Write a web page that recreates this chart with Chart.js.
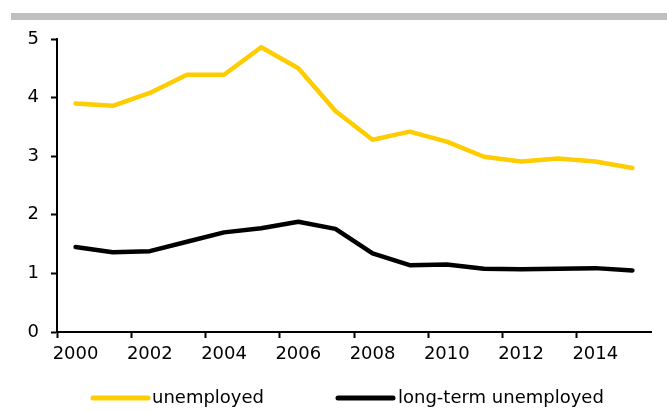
<!DOCTYPE html>
<html><head><meta charset="utf-8">
<script src="https://cdn.jsdelivr.net/npm/chart.js@4"></script>
<style>html,body{margin:0;padding:0;background:#fff;}#wrap{width:667px;height:411px;position:relative;}</style>
</head><body><div id="wrap"><canvas id="c"></canvas></div>
<script>
const years = ['2000','2001','2002','2003','2004','2005','2006','2007','2008','2009','2010','2011','2012','2013','2014','2015'];
const unemployed = [3.90,3.86,4.08,4.39,4.39,4.86,4.50,3.77,3.28,3.42,3.25,2.99,2.91,2.96,2.91,2.80];
const longTermUnemployed = [1.45,1.36,1.38,1.54,1.70,1.77,1.88,1.76,1.34,1.14,1.15,1.08,1.07,1.08,1.09,1.05];
const seriesNames = ['unemployed','long-term unemployed'];
const seriesColors = ['#FFCC00','#000000'];
const yMin = 0, yMax = 5, yStep = 1;

const FONT = 'DejaVu Sans';

const decor = {
  id: 'decor',
  beforeDraw(chart) {
    const ctx = chart.ctx;
    ctx.save();
    ctx.fillStyle = '#BFBFBF';
    ctx.fillRect(11, 13, 656, 7);
    ctx.restore();
  },
  afterDraw(chart) {
    const ctx = chart.ctx;
    const items = [{x0: 93, x1: 148, tx: 152}, {x0: 338, x1: 393, tx: 398}];
    const y = 398;
    ctx.save();
    ctx.font = '18px "' + FONT + '"';
    ctx.textBaseline = 'middle';
    ctx.textAlign = 'left';
    chart.data.datasets.forEach((ds, i) => {
      const it = items[i];
      ctx.strokeStyle = ds.borderColor;
      ctx.lineWidth = 5;
      ctx.lineCap = 'round';
      ctx.beginPath();
      ctx.moveTo(it.x0, y);
      ctx.lineTo(it.x1, y);
      ctx.stroke();
      ctx.fillStyle = '#000';
      ctx.fillText(ds.label, it.tx, y);
    });
    ctx.restore();
  }
};

new Chart(document.getElementById('c'), {
  type: 'line',
  data: {
    labels: years,
    datasets: [
      {label: seriesNames[0], data: unemployed, borderColor: seriesColors[0], backgroundColor: seriesColors[0]},
      {label: seriesNames[1], data: longTermUnemployed, borderColor: seriesColors[1], backgroundColor: seriesColors[1]}
    ]
  },
  options: {
    responsive: true,
    maintainAspectRatio: false,
    animation: false,
    devicePixelRatio: 1,
    layout: {padding: {top: 39, left: 0, right: 16, bottom: 39}},
    elements: {
      line: {borderWidth: 4.5, tension: 0, borderCapStyle: 'round', borderJoinStyle: 'round'},
      point: {radius: 0, hoverRadius: 0}
    },
    plugins: {legend: {display: false}, tooltip: {enabled: false}},
    scales: {
      x: {
        type: 'category',
        offset: true,
        afterFit(s) { s.height = 40; },
        grid: {
          offset: true, drawOnChartArea: false, drawTicks: true, tickLength: 6, tickWidth: 2,
          tickColor: (c) => (c.index % 2 === 0 ? '#000' : 'rgba(0,0,0,0)')
        },
        border: {display: true, color: '#000', width: 2},
        ticks: {
          autoSkip: false, maxRotation: 0, minRotation: 0, padding: 6, color: '#000',
          font: {family: FONT, size: 18},
          callback: function (v, i) { return i % 2 === 0 ? this.getLabelForValue(v) : ''; }
        }
      },
      y: {
        min: yMin, max: yMax,
        afterFit(s) { s.width = 57; },
        grid: {drawOnChartArea: false, drawTicks: true, tickLength: 6, tickWidth: 2, tickColor: '#000'},
        border: {display: true, color: '#000', width: 2},
        ticks: {stepSize: yStep, padding: 12, color: '#000', font: {family: FONT, size: 18}}
      }
    }
  },
  plugins: [decor]
});
</script></body></html>
